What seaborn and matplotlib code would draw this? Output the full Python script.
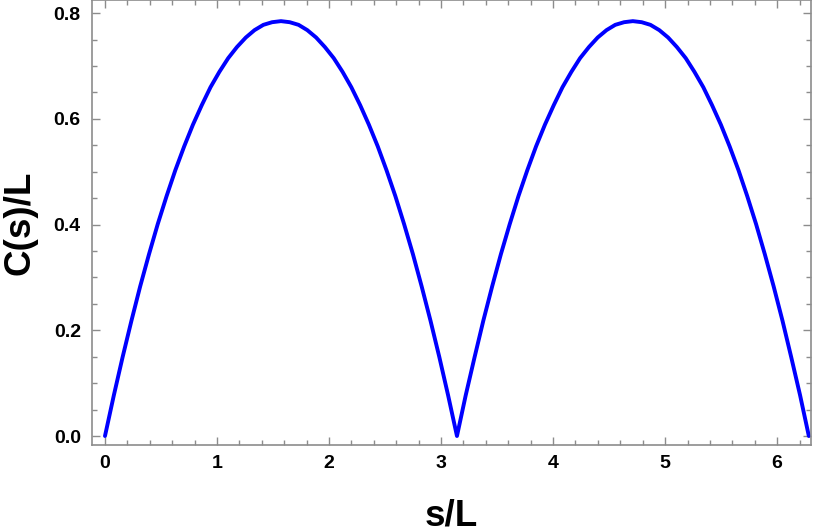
import matplotlib
matplotlib.use("Agg")
import matplotlib.pyplot as plt
import seaborn as sns
import pandas as pd
from matplotlib.ticker import MultipleLocator

sns.set_style("ticks")
plt.rcParams['font.family'] = ['Liberation Sans', 'DejaVu Sans']

# valores
s_vals = [0.000, 0.079, 0.157, 0.236, 0.314, 0.393, 0.471, 0.550, 0.628, 0.707,
          0.785, 0.864, 0.942, 1.021, 1.100, 1.178, 1.257, 1.335, 1.414, 1.492,
          1.571, 1.649, 1.728, 1.806, 1.885, 1.963, 2.042, 2.121, 2.199, 2.278,
          2.356, 2.435, 2.513, 2.592, 2.670, 2.749, 2.827, 2.906, 2.985, 3.063,
          3.142, 3.220, 3.299, 3.377, 3.456, 3.534, 3.613, 3.691, 3.770, 3.848,
          3.927, 4.006, 4.084, 4.163, 4.241, 4.320, 4.398, 4.477, 4.555, 4.634,
          4.712, 4.791, 4.869, 4.948, 5.027, 5.105, 5.184, 5.262, 5.341, 5.419,
          5.498, 5.576, 5.655, 5.733, 5.812, 5.890, 5.969, 6.048, 6.126, 6.205,
          6.283]
c_vals = [0.000, 0.077, 0.149, 0.218, 0.283, 0.344, 0.401, 0.454, 0.503, 0.548,
          0.589, 0.626, 0.660, 0.689, 0.715, 0.736, 0.754, 0.768, 0.778, 0.783,
          0.785, 0.783, 0.778, 0.768, 0.754, 0.736, 0.715, 0.689, 0.660, 0.626,
          0.589, 0.548, 0.503, 0.454, 0.401, 0.344, 0.283, 0.218, 0.149, 0.077,
          0.000, 0.077, 0.149, 0.218, 0.283, 0.344, 0.401, 0.454, 0.503, 0.548,
          0.589, 0.626, 0.660, 0.689, 0.715, 0.736, 0.754, 0.768, 0.778, 0.783,
          0.785, 0.783, 0.778, 0.768, 0.754, 0.736, 0.715, 0.689, 0.660, 0.626,
          0.589, 0.548, 0.503, 0.454, 0.401, 0.344, 0.283, 0.218, 0.149, 0.077,
          0.000]

df = pd.DataFrame({'s': s_vals, 'C': c_vals})

fig = plt.figure(figsize=(8.14, 5.32), dpi=100)
ax = fig.add_axes([0.113, 0.1635, 0.883, 0.8365])

sns.lineplot(x='s', y='C', data=df, ax=ax, color='#0000ff', linewidth=2.8, sort=False)

ax.set_xlim(-0.116, 6.30)
ax.set_ylim(-0.017, 0.825)
ax.xaxis.set_major_locator(MultipleLocator(1))
ax.xaxis.set_minor_locator(MultipleLocator(0.2))
ax.yaxis.set_major_locator(MultipleLocator(0.2))
ax.yaxis.set_minor_locator(MultipleLocator(0.05))
ax.yaxis.set_major_formatter(matplotlib.ticker.FormatStrFormatter('%.1f'))

grey = '#8c8c8c'
for sp in ax.spines.values():
    sp.set_visible(True)
    sp.set_color(grey)
    sp.set_linewidth(1.2)
ax.tick_params(which='both', direction='in', top=True, right=True, colors=grey,
               labelcolor='black', labelsize=14, width=1)
ax.tick_params(which='major', length=6)
ax.tick_params(which='minor', length=3.5)
ax.tick_params(axis='y', pad=8)
ax.tick_params(axis='x', pad=7)
for lab in ax.get_xticklabels() + ax.get_yticklabels():
    lab.set_fontweight('bold')

ax.set_xlabel('s/L', fontsize=26.5, fontweight='bold', color='black', labelpad=19)
ax.set_ylabel('C(s)/L', fontsize=26.5, fontweight='bold', color='black', labelpad=12)

fig.savefig('out.png', dpi=100)
